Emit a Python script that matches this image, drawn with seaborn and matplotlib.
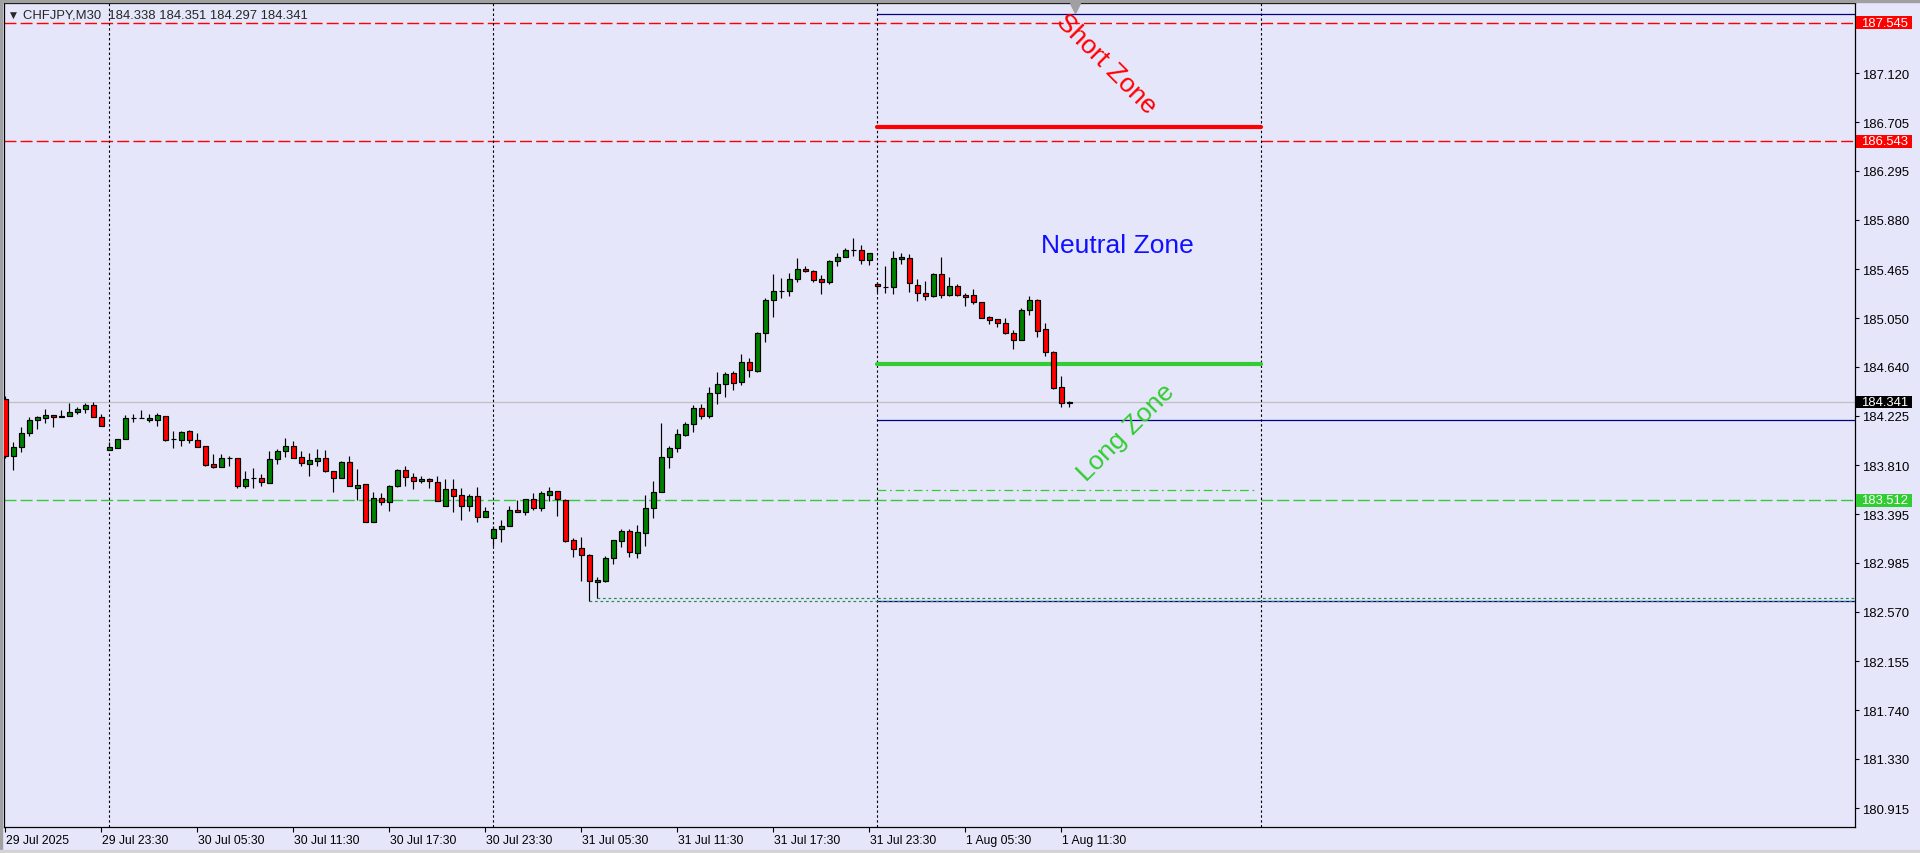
import numpy as np
import pandas as pd
import matplotlib
matplotlib.use("Agg")
import matplotlib.pyplot as plt
import matplotlib.transforms as mtransforms
from matplotlib.patches import Rectangle
import seaborn as sns

# ---------------- data ----------------
opens = [184.368, 183.887, 183.963, 184.081, 184.191, 184.208, 184.233, 184.226, 184.224, 184.258,
         184.284, 184.317, 184.216, 183.938, 183.955, 184.030, 184.204, 184.208, 184.191, 184.191,
         184.224, 184.030, 184.022, 184.098, 184.022, 183.971, 183.820, 183.794, 183.870, 183.870,
         183.634, 183.701, 183.701, 183.659, 183.861, 183.929, 183.971, 183.878, 183.820, 183.845,
         183.870, 183.760, 183.701, 183.836, 183.617, 183.651, 183.330, 183.532, 183.499, 183.634,
         183.769, 183.710, 183.676, 183.693, 183.668, 183.465, 183.608, 183.558, 183.465, 183.549,
         183.372, 183.195, 183.271, 183.296, 183.431, 183.414, 183.524, 183.448, 183.558, 183.592,
         183.516, 183.178, 183.110, 183.051, 182.823, 182.832, 183.026, 183.169, 183.254, 183.068,
         183.237, 183.448, 183.583, 183.878, 183.955, 184.064, 184.157, 184.292, 184.224, 184.419,
         184.495, 184.588, 184.512, 184.681, 184.605, 184.925, 185.204, 185.280, 185.280, 185.381,
         185.466, 185.449, 185.381, 185.356, 185.533, 185.567, 185.626, 185.626, 185.542, 185.339,
         185.314, 185.314, 185.550, 185.558, 185.331, 185.263, 185.238, 185.423, 185.246, 185.322,
         185.246, 185.246, 185.187, 185.060, 185.043, 185.010, 184.925, 184.866, 185.119, 185.204,
         184.959, 184.765, 184.469, 184.338]
highs = [184.393, 184.005, 184.132, 184.216, 184.224, 184.284, 184.236, 184.275, 184.334, 184.300,
         184.334, 184.343, 184.241, 184.005, 184.032, 184.233, 184.241, 184.275, 184.241, 184.250,
         184.227, 184.098, 184.098, 184.106, 184.081, 183.973, 183.904, 183.904, 183.887, 183.872,
         183.760, 183.786, 183.735, 183.929, 183.946, 184.039, 184.013, 183.929, 183.912, 183.946,
         183.938, 183.762, 183.845, 183.887, 183.777, 183.653, 183.583, 183.575, 183.642, 183.777,
         183.803, 183.743, 183.718, 183.701, 183.718, 183.693, 183.693, 183.617, 183.566, 183.625,
         183.456, 183.296, 183.347, 183.465, 183.516, 183.526, 183.575, 183.592, 183.625, 183.594,
         183.524, 183.195, 183.203, 183.060, 182.866, 183.043, 183.180, 183.271, 183.271, 183.305,
         183.558, 183.676, 184.166, 183.971, 184.115, 184.174, 184.317, 184.326, 184.469, 184.596,
         184.596, 184.605, 184.748, 184.714, 184.934, 185.221, 185.424, 185.390, 185.432, 185.558,
         185.491, 185.457, 185.415, 185.542, 185.601, 185.643, 185.727, 185.668, 185.603, 185.356,
         185.491, 185.618, 185.601, 185.592, 185.381, 185.364, 185.432, 185.567, 185.398, 185.339,
         185.263, 185.297, 185.189, 185.069, 185.045, 185.052, 184.951, 185.136, 185.238, 185.214,
         185.010, 184.774, 184.562, 184.351]
lows = [183.870, 183.769, 183.921, 184.056, 184.115, 184.166, 184.132, 184.214, 184.222, 184.241,
        184.250, 184.214, 184.138, 183.935, 183.952, 184.028, 184.174, 184.206, 184.174, 184.140,
        184.016, 183.955, 183.971, 183.997, 183.961, 183.803, 183.786, 183.792, 183.803, 183.617,
        183.617, 183.617, 183.634, 183.657, 183.820, 183.878, 183.868, 183.803, 183.718, 183.803,
        183.752, 183.583, 183.699, 183.632, 183.516, 183.328, 183.328, 183.473, 183.423, 183.625,
        183.634, 183.608, 183.659, 183.617, 183.505, 183.463, 183.414, 183.347, 183.423, 183.330,
        183.370, 183.127, 183.161, 183.294, 183.412, 183.389, 183.431, 183.423, 183.507, 183.380,
        183.161, 183.034, 182.832, 182.663, 182.686, 182.823, 182.975, 183.119, 183.034, 183.026,
        183.127, 183.364, 183.581, 183.786, 183.921, 184.056, 184.090, 184.199, 184.208, 184.326,
        184.385, 184.444, 184.486, 184.554, 184.596, 184.849, 185.060, 185.221, 185.238, 185.356,
        185.440, 185.356, 185.255, 185.339, 185.491, 185.565, 185.575, 185.508, 185.499, 185.272,
        185.263, 185.255, 185.508, 185.272, 185.196, 185.204, 185.229, 185.221, 185.238, 185.238,
        185.153, 185.170, 185.050, 185.001, 184.976, 184.917, 184.790, 184.864, 185.077, 184.892,
        184.731, 184.453, 184.301, 184.297]
closes = [183.887, 183.963, 184.081, 184.191, 184.216, 184.233, 184.216, 184.216, 184.258, 184.284,
          184.317, 184.216, 184.140, 183.963, 184.030, 184.208, 184.208, 184.209, 184.208, 184.233,
          184.022, 184.029, 184.090, 184.022, 183.963, 183.811, 183.794, 183.870, 183.871, 183.634,
          183.693, 183.702, 183.668, 183.861, 183.929, 183.971, 183.870, 183.828, 183.853, 183.870,
          183.760, 183.701, 183.836, 183.634, 183.642, 183.330, 183.532, 183.499, 183.634, 183.769,
          183.710, 183.676, 183.693, 183.676, 183.507, 183.608, 183.549, 183.465, 183.549, 183.372,
          183.423, 183.271, 183.296, 183.431, 183.414, 183.524, 183.448, 183.575, 183.592, 183.524,
          183.169, 183.102, 183.051, 182.832, 182.840, 183.026, 183.178, 183.254, 183.076, 183.245,
          183.448, 183.583, 183.878, 183.955, 184.073, 184.157, 184.292, 184.224, 184.419, 184.495,
          184.579, 184.503, 184.681, 184.613, 184.925, 185.204, 185.280, 185.281, 185.381, 185.466,
          185.449, 185.373, 185.356, 185.533, 185.567, 185.626, 185.627, 185.542, 185.601, 185.322,
          185.313, 185.558, 185.563, 185.347, 185.263, 185.238, 185.423, 185.246, 185.322, 185.246,
          185.229, 185.187, 185.052, 185.035, 185.010, 184.925, 184.866, 185.119, 185.204, 184.942,
          184.765, 184.461, 184.334, 184.341]

time_tick_bars = [0, 12, 24, 36, 48, 60, 72, 84, 96, 108, 120, 132]
time_tick_labels = ["29 Jul 2025", "29 Jul 23:30", "30 Jul 05:30", "30 Jul 11:30", "30 Jul 17:30",
                    "30 Jul 23:30", "31 Jul 05:30", "31 Jul 11:30", "31 Jul 17:30", "31 Jul 23:30",
                    "1 Aug 05:30", "1 Aug 11:30"]
day_separator_bars = [13, 61, 109, 157]
price_ticks = [187.120, 186.705, 186.295, 185.880, 185.465, 185.050, 184.640, 184.225,
               183.810, 183.395, 182.985, 182.570, 182.155, 181.740, 181.330, 180.915]

symbol_header = "CHFJPY,M30  184.338 184.351 184.297 184.341"
resistance_levels = [187.545, 186.543]
support_level = 183.512
current_price = 184.341
short_level = 186.664
long_level = 184.660
zone_start_bar, zone_end_bar = 109, 157
navy_levels = [187.616, 184.188, 182.663]
dashdot_level = 183.600
low_marks_bars = [73, 74]
low_marks_levels = [182.663, 182.686]

# ---------------- style ----------------
sns.set_theme(style="white")
plt.rcParams['font.family'] = ['Liberation Sans', 'DejaVu Sans']
BG = '#E6E6FA'
W, H = 1920, 854
fig = plt.figure(figsize=(W / 100, H / 100), dpi=100, facecolor=BG)
ax = fig.add_axes([4 / W, 1 - 828 / H, 1851 / W, 824 / H])
ax.set_facecolor(BG)
XMAX = 231.2
ax.set_xlim(-0.1625, XMAX)
ax.set_ylim(180.755, 187.711)

df = pd.DataFrame({"bar": np.arange(len(opens)), "open": opens, "high": highs,
                   "low": lows, "close": closes})

# full-width levels
for lvl in resistance_levels:
    ax.axhline(lvl, color='#FF0000', lw=1.0, ls=(0, (8.6, 3.0)), zorder=1)
ax.axhline(support_level, color='#32CD32', lw=1.0, ls=(0, (8.6, 3.0)), zorder=1)
ax.axhline(current_price, color='#C0C0C0', lw=0.9, zorder=1)

# separators
for b in day_separator_bars:
    ax.axvline(b, color='black', lw=0.8, ls=(0, (2.2, 2.2)), zorder=1)

# navy lines
for lvl in navy_levels:
    ax.hlines(lvl, zone_start_bar, XMAX, color='#000080', lw=0.9, zorder=1)

# low marks
for b, lvl in zip(low_marks_bars, low_marks_levels):
    ax.hlines(lvl, b, XMAX, color='#2E8B57', lw=0.9, ls=(0, (2.2, 2.2)), zorder=1)

ax.hlines(dashdot_level, zone_start_bar, zone_end_bar - 0.8, color='#32CD32', lw=0.9,
          ls=(0, (7, 3, 1.5, 3)), zorder=1)

# thick zone lines via seaborn
zones = pd.DataFrame({"bar": [zone_start_bar, zone_end_bar, zone_start_bar, zone_end_bar],
                      "level": [short_level, short_level, long_level, long_level],
                      "zone": ["short", "short", "long", "long"]})
sns.lineplot(data=zones, x="bar", y="level", hue="zone", palette={"short": "#FF0000", "long": "#32CD32"},
             lw=3.0, legend=False, ax=ax, solid_capstyle='round', zorder=2)
ax.set_xlabel("")
ax.set_ylabel("")

# candles
colors = np.where(df["close"] > df["open"], '#008000', np.where(df["close"] < df["open"], '#FF0000', 'black'))
ax.vlines(df["bar"], df["low"], df["high"], color='black', lw=0.85, zorder=3)
bottoms = np.minimum(df["open"], df["close"])
heights = np.abs(df["close"] - df["open"])
ax.bar(df["bar"], heights, bottom=bottoms, width=0.62, color=colors, edgecolor='black',
       linewidth=0.85, zorder=4)

# zone texts
ax.text(139.0, 185.668, "Neutral Zone", color='#1010FF', fontsize=19, ha='center', va='center', zorder=5)
ax.text(137.6, 187.205, "Short Zone", color='#FF0000', fontsize=19, ha='center', va='center',
        rotation=-45, rotation_mode='anchor', zorder=5)
ax.text(140.1, 184.090, "Long Zone", color='#32CD32', fontsize=19, ha='center', va='center',
        rotation=45, rotation_mode='anchor', zorder=5)

# axes styling
for s in ax.spines.values():
    s.set_color('black')
    s.set_linewidth(0.9)
ax.yaxis.tick_right()
ax.set_yticks(price_ticks)
ax.set_yticklabels([f"{v:.3f}" for v in price_ticks])
ax.tick_params(axis='y', direction='out', length=3, width=0.8, pad=2, labelsize=9.4,
               colors='black', right=True, left=False)
ax.set_xticks(time_tick_bars)
ax.set_xticklabels(time_tick_labels, ha='left')
ax.tick_params(axis='x', direction='out', length=3.5, width=0.8, pad=1.5, labelsize=8.7,
               colors='black', bottom=True)
for lbl in ax.get_xticklabels():
    lbl.set_transform(lbl.get_transform() + mtransforms.ScaledTranslation(1 / 100, 0, fig.dpi_scale_trans))
ax.grid(False)

# price labels on right scale
blend = mtransforms.blended_transform_factory(ax.transAxes, ax.transData)
for lvl, fc in [(resistance_levels[0], '#FF0000'), (resistance_levels[1], '#FF0000'),
                (support_level, '#32CD32'), (current_price, 'black')]:
    ax.add_patch(Rectangle((1.0006, lvl - 0.053), 0.0303, 0.106, transform=blend, facecolor=fc,
                           edgecolor='none', clip_on=False, zorder=6))
    ax.text(1.0032, lvl, f"{lvl:.3f}", transform=blend, color='white', fontsize=9.4,
            ha='left', va='center', clip_on=False, zorder=7)

# header
fig.text(10 / W, 1 - 15 / H, "\u25BC", fontsize=6.5, family='DejaVu Sans', va='center', ha='left')
fig.text(23 / W, 1 - 15 / H, symbol_header, fontsize=9.4, va='center', ha='left')

# chart shift marker
ax.plot([0.5786], [0.994], marker='v', color='#A0A0A0', markersize=7, transform=ax.transAxes,
        clip_on=False, zorder=6)

# window borders
fig.add_artist(Rectangle((0, 1 - 2.5 / H), 1, 2.5 / H, transform=fig.transFigure, color='#A0A0A0'))
fig.add_artist(Rectangle((0, 0), 2 / W, 1, transform=fig.transFigure, color='#A0A0A0'))
fig.add_artist(Rectangle((0, 0), 1, 3 / H, transform=fig.transFigure, color='#D4D4D4'))

fig.savefig("out.png", dpi=100, facecolor=BG)
